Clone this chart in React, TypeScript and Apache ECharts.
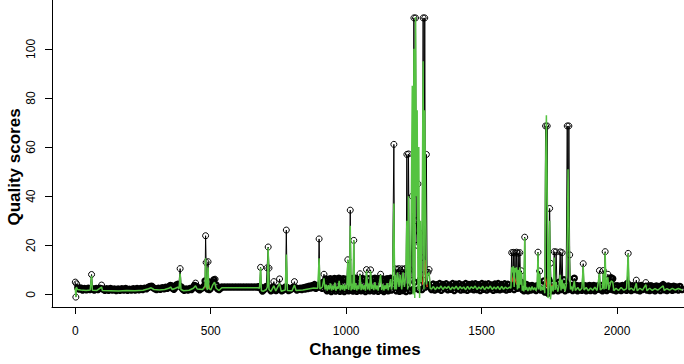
import React, { useEffect, useRef } from "react";
import * as echarts from "echarts";

type P = [number, number];

// ---- Observed quality scores (black, open circles) ----
const observedEarly: P[] = [
  [0,5.0],[2,-1.1],[5,4.3],[9,2.6],[14,2.2],[20,2.6],[27,1.8],[34,2.4],[41,1.9],[48,2.5],[54,2.0],[60,8.1],[64,2.3],[70,1.8],[77,2.4],[84,2.0],[91,2.5],[97,3.8],[102,2.2],[109,1.7],[116,2.3],[123,1.7],[130,2.4],[137,1.8],[144,2.2],[151,1.6],[158,2.2],[165,1.7],[172,2.3],[179,1.8],[186,2.4],[193,1.7],[200,2.1],[207,1.8],[214,2.3],[221,1.8],[228,2.4],[235,1.9],[242,2.4],[249,2.0],[256,2.5],[263,2.3],[270,2.9],[276,3.2],[282,3.3],[288,2.7],[294,2.3],[300,2.0],[307,2.5],[314,2.1],[321,2.7],[328,2.3],[334,2.9],[340,2.5],[346,3.1],[351,3.6],[355,3.4],[359,2.5],[364,2.1],[369,2.8],[373,3.8],[378,4.1],[382,3.5],[387,10.5],[391,3.0],[396,2.2],[402,1.7],[409,2.2],[416,1.8],[423,2.4],[429,2.0],[435,2.9],[440,3.6],[444,4.6],[448,3.2],[453,2.3],[459,1.9],[465,2.4],[471,2.8],[476,3.4],[479,5.5],[481,23.9],[483,13.0],[485,3.0],[488,2.2],[490,13.3],[492,5.2],[495,2.0],[499,2.4],[503,3.4],[508,5.2],[512,6.0],[516,6.2],[520,3.8],[525,2.3],[531,2.0],[537,2.6]
];
const observedFlat: P[] = [
  [541,3.0],[551,3.0],[561,3.0],[571,3.0],[581,3.0],[591,3.0],[601,3.0],[611,3.0],[621,3.0],[631,3.0],[641,3.0],[651,3.0],[661,3.0],[671,3.0],[676,3.0]
];
const observedMid: P[] = [
  [681,3.2],[684,11.0],[687,2.2],[691,1.4],[696,1.9],[701,2.6],[705,3.2],[708,10.8],[712,19.3],[715,10.7],[718,2.4],[722,1.5],[727,1.8],[730,3.0],[733,5.2],[736,2.4],[741,1.6],[746,2.0],[750,2.7],[754,6.3],[757,2.6],[762,1.5],[767,1.8],[772,2.3],[776,3.0],[779,26.2],[782,2.8],[787,1.6],[793,1.9],[799,2.3],[804,2.9],[809,5.2],[813,2.7],[818,1.8],[824,2.1],[830,2.5],[836,2.0],[842,2.7],[848,2.2],[853,3.0],[858,2.4],[863,3.3],[868,2.6],[873,3.5],[878,2.8],[883,4.0],[888,2.5],[893,3.6],[897,3.0],[900,22.6],[903,3.2],[907,4.2],[911,2.5],[915,5.0],[918,8.2],[921,3.5],[925,6.3]
];
const observedNoisy: P[] = [
  [929,1.5],[933,6.0],[937,1.8],[941,6.4],[945,1.2],[949,5.6],[953,2.0],[957,6.5],[961,1.4],[965,6.1],[969,2.2],[973,6.6],[977,1.3],[981,5.9],[985,1.7],[989,6.4],[993,1.2],[997,6.2],[1001,2.4],[1006,14.1],[1009,1.5],[1012,6.3],[1015,34.3],[1018,2.0],[1022,6.5],[1025,1.4],[1028,22.0],[1031,2.1],[1035,6.6],[1039,1.3],[1043,6.0],[1047,1.8],[1051,8.4],[1055,1.5],[1059,6.5],[1063,2.0],[1067,6.2],[1071,1.2],[1075,10.1],[1079,1.9],[1083,6.4],[1087,1.5],[1090,10.0],[1094,2.2],[1098,6.3],[1102,1.4],[1106,6.6],[1110,1.8],[1114,6.1],[1118,1.3],[1122,6.5],[1127,8.2],[1131,1.7],[1135,6.3],[1139,1.2],[1143,5.9],[1147,2.0],[1151,6.4],[1155,1.5],[1159,6.2],[1164,6.6],[1167,1.8],[1171,5.8]
];
const observedPeak: P[] = [
  [1176,61.1],[1179,3.0],[1182,10.4],[1185,1.5],[1188,10.2],[1191,2.5],[1194,10.5],[1197,1.3],[1200,9.8],[1203,2.0],[1206,10.4],[1209,1.6],[1212,10.1],[1215,2.4],[1218,10.5],[1221,1.2],[1224,57.0],[1227,3.0],[1230,57.2],[1233,10.3],[1236,1.5],[1240,8.0],[1244,40.0],[1247,2.0],[1250,112.6],[1253,5.0],[1256,112.6],[1259,30.0],[1262,20.0],[1265,45.0],[1268,2.0],[1271,25.0],[1274,6.0],[1277,15.0],[1280,2.0],[1284,112.6],[1287,8.0],[1290,112.6],[1293,3.0],[1296,57.0],[1299,4.0],[1302,9.0],[1306,10.1],[1310,3.0]
];
const observedQuiet: P[] = [
  [1315,2.0],[1321,4.2],[1327,1.8],[1333,3.9],[1339,2.2],[1345,4.4],[1351,1.7],[1357,4.0],[1363,2.4],[1369,4.3],[1375,1.9],[1381,3.7],[1387,2.1],[1393,4.4],[1399,1.6],[1405,4.1],[1411,2.3],[1417,4.3],[1423,1.8],[1429,3.8],[1435,2.0],[1441,4.4],[1447,1.7],[1453,4.0],[1459,2.2],[1465,4.2],[1471,1.9],[1477,4.3],[1483,2.0],[1489,3.9],[1495,1.6],[1501,4.4],[1507,2.1],[1513,4.1],[1519,1.8],[1525,4.3],[1531,2.3],[1537,3.8],[1543,1.7],[1549,4.2],[1555,2.0],[1561,4.4],[1567,1.9],[1573,4.0],[1579,2.2],[1585,4.3],[1591,1.8],[1597,4.1],[1603,2.1]
];
const observedCluster: P[] = [
  [1608,3.0],[1611,17.0],[1614,3.5],[1617,17.1],[1620,2.0],[1623,16.9],[1626,4.0],[1629,17.2],[1632,2.5],[1635,16.8],[1638,3.0],[1641,17.0],[1644,5.0],[1647,9.6],[1650,2.0],[1653,4.5],[1656,1.5],[1659,23.3],[1662,2.2],[1666,4.0]
];
const observedLate: P[] = [
  [1671,1.5],[1676,3.4],[1681,1.8],[1686,3.6],[1691,2.0],[1696,3.2],[1701,1.6],[1705,3.5],[1708,17.2],[1711,2.5],[1714,9.5],[1718,1.8],[1722,3.6],[1726,2.0],[1730,5.5],[1733,1.0],[1736,68.6],[1739,3.0],[1742,68.6],[1745,0.5],[1748,6.0],[1751,35.0],[1754,12.7],[1757,2.0],[1760,4.5],[1764,1.5],[1768,17.4],[1771,2.2],[1775,17.3],[1778,3.5],[1782,1.5],[1786,5.0],[1790,17.3],[1793,2.0],[1797,17.0],[1800,3.0],[1804,6.0],[1808,1.5],[1812,4.5],[1816,68.6],[1819,2.0],[1822,68.6],[1825,16.1],[1828,2.5],[1832,3.6],[1836,1.6],[1839,3.4],[1842,6.6],[1846,2.0],[1850,3.6],[1854,1.5],[1858,3.3],[1862,2.0],[1866,3.5],[1870,1.7],[1875,12.5],[1878,2.2],[1882,3.5],[1886,1.5],[1890,3.2],[1894,1.9],[1898,3.6],[1902,1.6],[1906,3.3],[1910,2.0],[1914,3.6],[1918,1.5],[1922,3.2],[1926,2.1],[1930,3.5],[1935,9.7],[1938,2.0],[1942,3.6],[1946,1.5],[1949,9.7],[1952,2.5],[1956,17.4],[1959,3.0],[1962,1.6],[1966,8.2],[1969,2.2],[1973,4.5],[1978,6.8],[1981,2.0],[1984,6.4],[1988,1.8],[1992,3.4],[1996,1.5],[2000,3.5],[2005,1.9],[2010,3.3],[2015,1.6],[2020,3.6],[2025,2.0],[2030,3.2],[2035,1.7],[2038,4.5],[2041,16.7],[2044,2.3],[2048,3.4],[2052,1.6],[2057,3.5],[2062,2.0],[2067,3.2],[2071,5.8],[2074,1.8],[2079,3.4],[2084,1.5],[2089,3.6],[2094,2.0],[2099,3.2],[2106,4.8],[2110,1.8],[2115,3.4],[2120,1.6],[2125,3.5],[2130,1.9],[2135,3.1],[2140,1.5],[2145,3.4],[2150,2.0],[2155,3.2],[2160,1.6],[2165,3.4],[2170,4.0],[2174,1.9],[2179,3.2],[2184,1.6],[2189,3.4],[2194,2.0],[2199,3.1],[2204,1.7],[2209,3.3],[2214,2.0],[2220,3.0],[2226,1.8],[2232,3.2],[2240,2.0]
];
// change times whose circles stand clear of the dense band
const isolatedTimes = [0, 2, 5, 97, 444, 516, 733, 754, 809, 2071, 2106];

// ---- Fitted scores (green line) ----
const fittedEarly: P[] = [
  [0,2.5],[2,-1.0],[4,3.0],[8,2.0],[20,1.8],[40,1.6],[55,1.8],[60,7.6],[63,1.7],[80,1.6],[97,3.0],[100,1.6],[130,1.5],[160,1.4],[190,1.6],[220,1.5],[250,1.7],[270,2.3],[280,2.7],[290,2.0],[310,1.8],[330,2.0],[345,2.5],[352,3.0],[358,2.0],[370,2.5],[378,3.0],[383,2.3],[387,8.5],[390,2.0],[400,1.5],[420,1.7],[436,2.5],[444,3.5],[450,2.2],[470,2.0],[479,3.5],[481,14.7],[484,3.0],[488,1.8],[490,11.0],[493,2.5],[500,1.8],[508,4.0],[514,5.0],[520,2.5],[530,1.6],[541,2.7],[675,2.7]
];
const fittedMid: P[] = [
  [680,2.5],[684,10.8],[687,1.5],[695,1.3],[705,2.0],[709,3.0],[712,19.0],[715,2.0],[722,1.2],[733,3.5],[740,1.4],[754,4.5],[760,1.3],[775,1.8],[779,16.2],[783,1.6],[800,1.5],[809,3.8],[815,1.6],[840,1.8],[860,2.2],[880,2.6],[895,2.5],[900,14.7],[903,2.2],[912,3.0],[918,6.5],[922,2.0]
];
const fittedNoisy: P[] = [
  [926,4.0],[930,1.5],[934,3.8],[938,2.0],[942,4.5],[946,1.6],[950,3.5],[954,1.9],[958,4.8],[962,1.5],[966,3.2],[970,2.2],[974,5.5],[978,1.6],[982,3.8],[986,2.0],[990,4.2],[994,1.5],[998,3.9],[1002,2.2],[1006,14.0],[1009,1.8],[1012,4.0],[1015,28.0],[1018,1.6],[1022,4.4],[1025,2.0],[1028,22.0],[1031,1.8],[1035,4.6],[1039,1.6],[1043,3.7],[1047,2.1],[1051,8.0],[1055,1.7],[1059,4.2],[1063,2.0],[1067,3.8],[1071,1.5],[1075,9.5],[1079,2.0],[1083,4.4],[1087,1.6],[1090,9.5],[1094,2.2],[1098,4.0],[1102,1.7],[1106,5.0],[1110,2.0],[1114,3.6],[1118,1.5],[1122,4.5],[1127,8.0],[1131,1.8],[1135,4.1],[1139,1.6],[1143,3.7],[1147,2.2],[1151,4.6],[1155,1.7],[1159,3.9],[1164,6.2],[1167,2.0],[1171,4.0]
];
const fittedPeak: P[] = [
  [1176,37.0],[1179,2.0],[1182,8.0],[1185,2.0],[1190,9.0],[1195,3.0],[1200,8.0],[1205,2.0],[1210,9.0],[1215,3.0],[1220,8.0],[1224,30.0],[1227,2.0],[1230,40.0],[1233,5.0],[1237,3.0],[1240,30.0],[1244,85.0],[1247,0.0],[1250,100.0],[1253,-1.5],[1256,113.0],[1259,40.0],[1262,75.0],[1265,2.0],[1268,60.0],[1271,-1.5],[1274,30.0],[1277,5.0],[1280,20.0],[1284,95.0],[1287,2.0],[1290,75.0],[1293,35.0],[1296,4.0],[1300,8.0],[1306,9.0],[1310,2.5]
];
const fittedQuiet: P[] = [
  [1315,2.2],[1322,3.2],[1329,1.9],[1336,3.0],[1343,2.3],[1350,3.4],[1357,2.0],[1364,3.1],[1371,2.4],[1378,3.3],[1385,1.9],[1392,3.0],[1399,2.2],[1406,3.4],[1413,2.0],[1420,3.2],[1427,2.3],[1434,3.0],[1441,1.9],[1448,3.3],[1455,2.1],[1462,3.1],[1469,2.4],[1476,3.4],[1483,2.0],[1490,3.0],[1497,2.2],[1504,3.3],[1511,1.9],[1518,3.1],[1525,2.3],[1532,3.4],[1539,2.0],[1546,3.0],[1553,2.2],[1560,3.2],[1567,1.9],[1574,3.3],[1581,2.1],[1588,3.0],[1595,2.3],[1603,3.0]
];
const fittedCluster: P[] = [
  [1608,2.5],[1611,11.0],[1614,9.0],[1617,11.5],[1620,3.0],[1623,10.8],[1626,9.0],[1629,11.0],[1632,2.0],[1635,10.0],[1638,2.5],[1641,11.0],[1644,4.0],[1647,9.0],[1650,1.5],[1653,3.5],[1656,1.2],[1659,23.0],[1662,1.8],[1666,3.0]
];
const fittedLate: P[] = [
  [1671,1.4],[1676,3.0],[1681,1.6],[1686,3.2],[1691,1.8],[1696,2.8],[1701,1.5],[1705,3.0],[1708,17.0],[1711,2.0],[1714,8.5],[1718,1.5],[1722,3.2],[1726,1.8],[1730,4.0],[1733,0.5],[1736,50.0],[1739,73.0],[1742,40.0],[1745,-1.5],[1748,5.0],[1751,30.0],[1754,-2.0],[1757,1.5],[1760,3.5],[1764,1.2],[1768,15.0],[1771,1.8],[1775,5.0],[1778,2.5],[1782,1.2],[1786,4.0],[1790,8.0],[1793,1.6],[1797,6.0],[1800,2.2],[1804,4.5],[1808,1.2],[1812,3.5],[1816,20.0],[1819,51.0],[1822,30.0],[1825,10.0],[1828,2.0],[1832,3.2],[1836,1.4],[1842,5.5],[1846,1.6],[1855,2.8],[1862,1.6],[1870,2.5],[1875,11.5],[1878,1.8],[1886,2.8],[1894,1.5],[1902,2.6],[1910,1.7],[1918,2.9],[1926,1.6],[1935,8.5],[1938,1.8],[1946,2.5],[1949,8.5],[1952,2.0],[1956,17.0],[1959,2.2],[1966,7.0],[1969,1.8],[1978,5.5],[1984,5.0],[1988,1.5],[1996,2.5],[2005,1.6],[2015,2.8],[2025,1.7],[2035,2.4],[2041,16.5],[2044,1.8],[2052,2.6],[2062,1.6],[2071,4.5],[2074,1.5],[2084,2.5],[2094,1.7],[2106,4.0],[2110,1.5],[2120,2.5],[2130,1.6],[2140,2.4],[2150,1.7],[2160,2.6],[2170,3.5],[2174,1.6],[2184,2.4],[2194,1.7],[2204,2.5],[2214,1.8],[2226,2.4],[2240,1.8]
];

// ---- Red line (mostly hidden under the green one) ----
const redSegments: P[][] = [
  [[478,2.4],[482,5.5],[486,2.8],[492,4.0],[496,2.2]],
  [[1282,4.0],[1286,9.0],[1291,14.0],[1295,6.0],[1299,3.0]],
  [[1612,5.0],[1618,8.0],[1624,6.0],[1630,4.0]],
  [[1731,3.0],[1735,7.0],[1740,4.0],[1744,2.0]],
  [[1756,2.0],[1760,4.0],[1764,2.0]]
];

const xTicks = [0, 500, 1000, 1500, 2000];
const yTicks = [0, 20, 40, 60, 80, 100];
const xTitle = "Change times";
const yTitle = "Quality scores";

const FONT = "'Liberation Sans', Arial, Helvetica, sans-serif";

export default function App() {
  const ref = useRef<HTMLDivElement>(null);
  useEffect(() => {
    if (!ref.current) return;
    const chart = echarts.init(ref.current, null, { renderer: "svg" });
    const observed = [
      ...observedEarly, ...observedFlat, ...observedMid, ...observedNoisy,
      ...observedPeak, ...observedQuiet, ...observedCluster, ...observedLate,
    ];
    // isolated high points keep a thin open circle, the dense band gets heavier strokes
    const observedItems = observed.map((p) =>
      p[1] > 7.5 || isolatedTimes.indexOf(p[0]) >= 0
        ? { value: p }
        : { value: p, symbolSize: 5, itemStyle: { borderWidth: 2.4 } }
    );
    const fitted = [
      ...fittedEarly, ...fittedMid, ...fittedNoisy, ...fittedPeak,
      ...fittedQuiet, ...fittedCluster, ...fittedLate,
    ];
    const red: any[] = [];
    redSegments.forEach((seg) => {
      seg.forEach((p) => red.push(p));
      red.push([seg[seg.length - 1][0] + 0.5, "-"]);
    });
    chart.setOption({
      animation: false,
      backgroundColor: "#ffffff",
      grid: { left: 52, right: -10, top: -10, bottom: 57, containLabel: false },
      xAxis: {
        type: "value",
        min: -86,
        max: 2247,
        axisLine: { show: true, onZero: false, lineStyle: { color: "#000", width: 1 } },
        axisTick: { show: true, customValues: xTicks, length: 7, lineStyle: { color: "#000" } },
        axisLabel: {
          show: true, customValues: xTicks, color: "#000", fontSize: 12, fontFamily: FONT, margin: 18,
          formatter: (v: number) => String(v),
        },
        splitLine: { show: false },
      },
      yAxis: {
        type: "value",
        min: -5.13,
        max: 119.9,
        axisLine: { show: true, onZero: false, lineStyle: { color: "#000", width: 1 } },
        axisTick: { show: true, customValues: yTicks, length: 7, lineStyle: { color: "#000" } },
        axisLabel: {
          show: true, customValues: yTicks, rotate: 90, color: "#000", fontSize: 12, fontFamily: FONT, margin: 15,
          formatter: (v: number) => String(v),
        },
        splitLine: { show: false },
      },
      graphic: [
        {
          type: "text", x: 14, y: 167, rotation: Math.PI / 2,
          style: { text: yTitle, fontSize: 17, fontWeight: "bold", fontFamily: FONT, fill: "#000", textAlign: "center", textVerticalAlign: "middle" },
        },
        {
          type: "text", x: 365, y: 349,
          style: { text: xTitle, fontSize: 17, fontWeight: "bold", fontFamily: FONT, fill: "#000", textAlign: "center", textVerticalAlign: "middle" },
        },
      ],
      series: [
        {
          type: "line",
          data: observedItems,
          symbol: "circle",
          symbolSize: 6,
          showAllSymbol: true,
          lineStyle: { color: "#000", width: 1 },
          itemStyle: { color: "rgba(0,0,0,0)", borderColor: "#000", borderWidth: 1 },
          emphasis: { disabled: true },
          z: 2,
        },
        {
          type: "line",
          data: red,
          symbol: "none",
          connectNulls: false,
          lineStyle: { color: "#e2401c", width: 1.3 },
          z: 3,
        },
        {
          type: "line",
          data: fitted,
          symbol: "none",
          lineStyle: { color: "#55c341", width: 1.5 },
          z: 4,
        },
      ],
    });
    return () => chart.dispose();
  }, []);
  return (
    <div
      ref={ref}
      style={{ position: "absolute", left: 0, top: 0, width: 684, height: 364, background: "#fff" }}
    />
  );
}
